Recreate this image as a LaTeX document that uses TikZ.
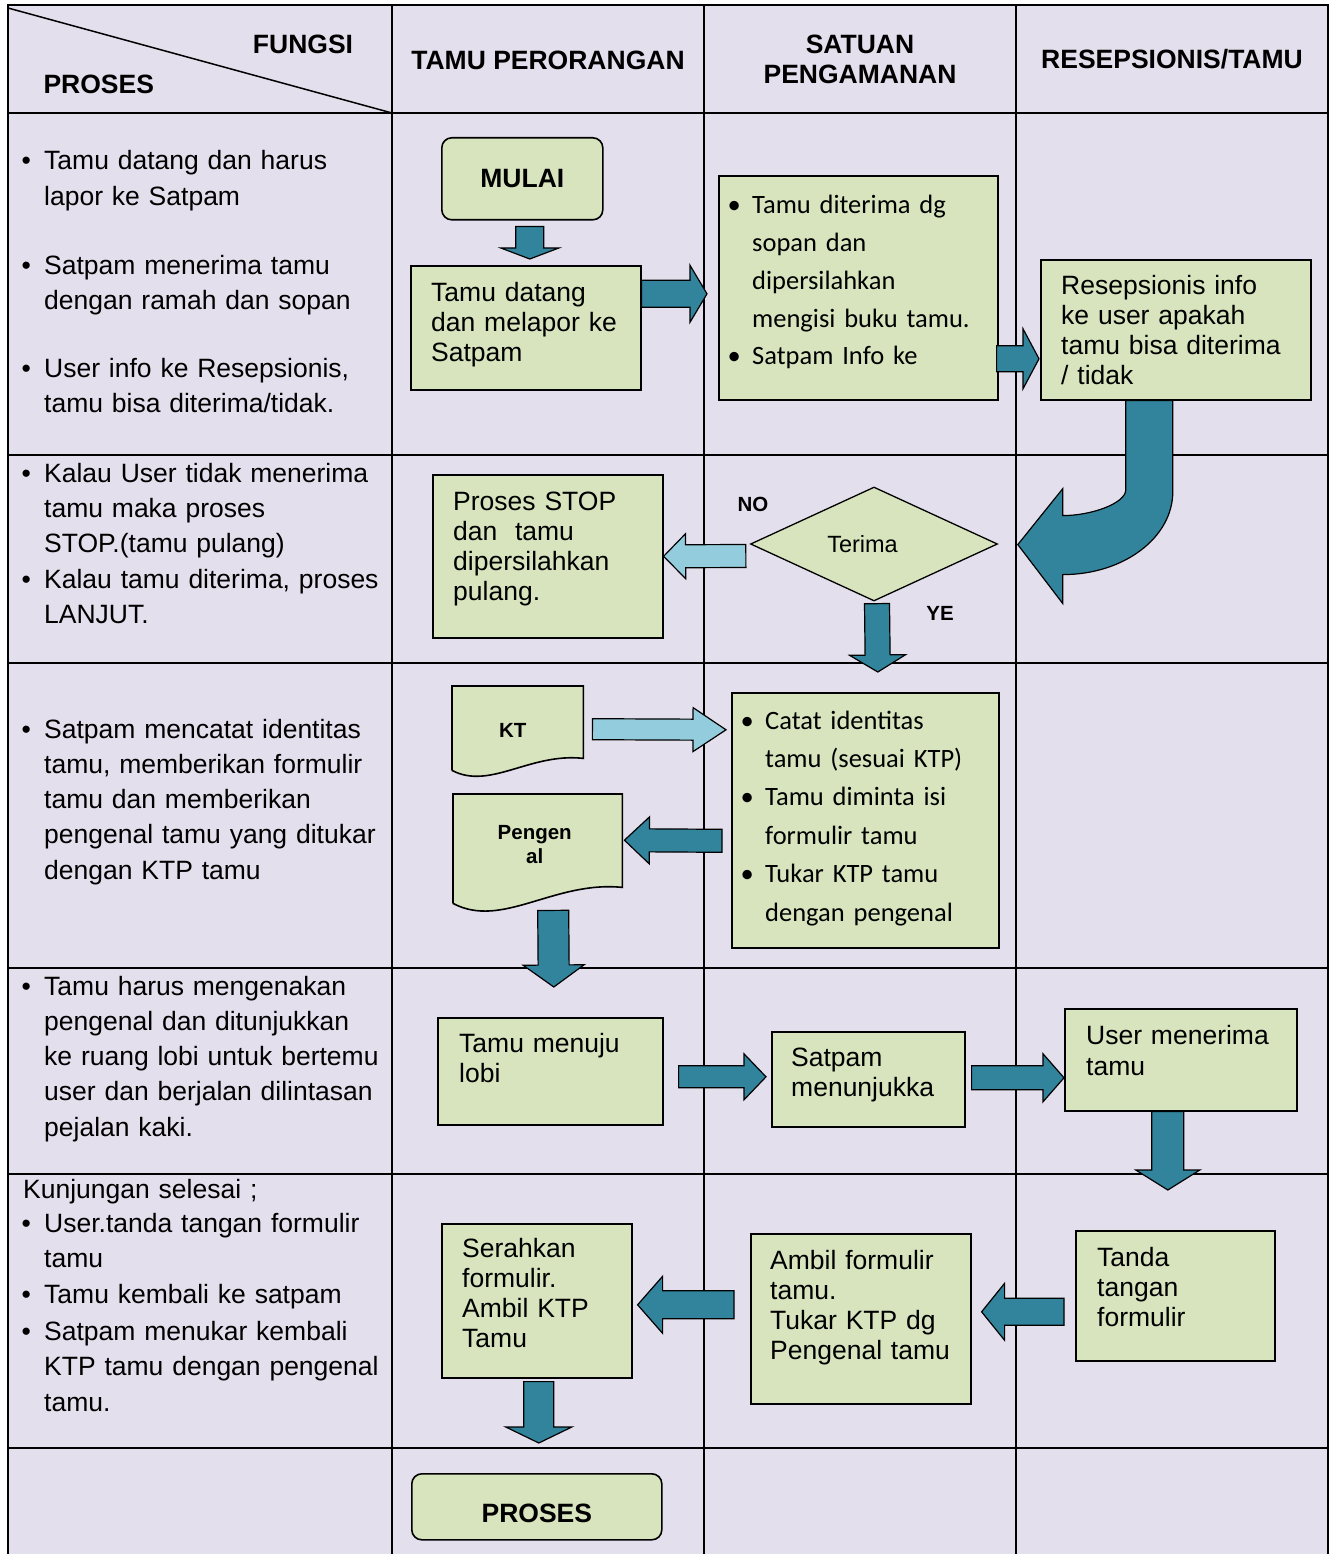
\documentclass[tikz,border=0pt]{standalone}
\usepackage{fontspec}
\setmainfont{Liberation Sans}
\newfontfamily\calibri{Carlito}
\usetikzlibrary{calc,shapes.geometric}

\definecolor{lavbg}{HTML}{E4DFEC}
\definecolor{boxgreen}{HTML}{D7E4BD}
\definecolor{arrteal}{HTML}{31849B}
\definecolor{arrlight}{HTML}{93CDDD}

\newcommand\colfnt{\fontsize{26.5}{35.3}\selectfont}
\newcommand\boxfnt{\fontsize{26.5}{30.3}\selectfont}
\newcommand\calfnt{\calibri\fontsize{26.5}{37.7}\selectfont}
\newcommand\headfnt{\bfseries\fontsize{26.5}{29.5}\selectfont}
\newcommand\smallfnt{\bfseries\fontsize{20.5}{24.5}\selectfont}
\newcommand\bul{\leavevmode\llap{\makebox[36pt][c]{\textbullet}}}
% block arrow: [fill]{from}{tip}{shaft}{head}{head length}
\newcommand\blkarrow[6][arrteal]{%
  \draw[blk,fill=#1] let \p1=#2, \p2=#3,
    \n1={atan2(\y2-\y1,\x2-\x1)}, \n2={veclen(\x2-\x1,\y2-\y1)} in
    [shift={(\p1)},rotate=\n1]
    (0,{#4/2}) -- ({\n2-#6},{#4/2}) -- ({\n2-#6},{#5/2}) -- (\n2,0)
    -- ({\n2-#6},{-#5/2}) -- ({\n2-#6},{-#4/2}) -- (0,{-#4/2}) -- cycle;}

\begin{document}
\begin{tikzpicture}[x=1pt,y=-1pt,
  grid/.style={line width=2pt},
  blk/.style={draw=black,line width=1.2pt},
  procbox/.style={draw=black,line width=1.6pt,fill=boxgreen,anchor=north west,inner sep=0pt},
  startbox/.style={procbox,rounded corners=10pt,font=\headfnt},
  docbox/.style={anchor=north west,inner sep=0pt},
  docline/.style={draw=black,line width=1.6pt,fill=boxgreen},
  decision/.style={diamond,draw=black,line width=1.3pt,fill=boxgreen,inner sep=0pt,aspect=2.17},
  txt/.style={anchor=base west,inner sep=0pt,align=left,text width=#1},
  txt/.default=380pt]
\useasboundingbox (0,0) rectangle (1329,1554);

% table
\fill[lavbg] (8,5) rectangle (1328,1554);
\draw[grid] (8,1554) -- (8,5) -- (1328,5) -- (1328,1554);
\foreach \x in {392,704,1016} \draw[grid] (\x,5) -- (\x,1554);
\foreach \y in {113,455,663,968,1174,1448} \draw[grid] (8,\y) -- (1328,\y);
\draw[line width=1.5pt] (8,8) -- (392,113);

% header
\node[font=\headfnt,anchor=base] (fungsi) at (303,54) {FUNGSI};
\node[font=\headfnt,anchor=base west] (proseshd) at (40,94) {PROSES};
\node[font=\headfnt,anchor=base] (tamuhd) at (548,70) {TAMU PERORANGAN};
\node[font=\headfnt,anchor=base,align=center,text width=280pt] (satpamhd) at (860,54) {SATUAN\\PENGAMANAN};
\node[font=\headfnt,anchor=base] (resephd) at (1172,69) {RESEPSIONIS/TAMU};

% process column
\node[txt,font=\colfnt] (r1a) at (44,170) {\bul Tamu datang dan harus\\lapor ke Satpam};
\node[txt,font=\colfnt] (r1b) at (44,274) {\bul Satpam menerima tamu\\dengan ramah dan sopan};
\node[txt,font=\colfnt] (r1c) at (44,377) {\bul User info ke Resepsionis,\\tamu bisa diterima/tidak.};
\node[txt,font=\colfnt] (r2a) at (44,482) {\bul Kalau User tidak menerima\\tamu maka proses\\STOP.(tamu pulang)};
\node[txt,font=\colfnt] (r2b) at (44,588) {\bul Kalau tamu diterima, proses\\LANJUT.};
\node[txt,font=\colfnt] (r3) at (44,738) {\bul Satpam mencatat identitas\\tamu, memberikan formulir\\tamu dan memberikan\\pengenal tamu yang ditukar\\dengan KTP tamu};
\node[txt,font=\colfnt] (r4) at (44,995) {\bul Tamu harus mengenakan\\pengenal dan ditunjukkan\\ke ruang lobi untuk bertemu\\user dan berjalan dilintasan\\pejalan kaki.};
\node[txt,font=\colfnt] (kunj) at (23,1198) {Kunjungan selesai ;};
\node[txt,font=\colfnt] (r5a) at (44,1232) {\bul User.tanda tangan formulir\\tamu};
\node[txt,font=\colfnt] (r5b) at (44,1303) {\bul Tamu kembali ke satpam};
\node[txt,font=\colfnt] (r5c) at (44,1340) {\bul Satpam menukar kembali\\KTP tamu dengan pengenal\\[1pt]tamu.};

% boxes
\node[startbox,minimum width=161,minimum height=82] (mulai) at (441,137) {MULAI};
\node[procbox,minimum width=230,minimum height=124] (datang) at (410,265) {};
\node[txt=200pt,font=\boxfnt] (datangt) at (431,301) {Tamu datang\\dan melapor ke\\Satpam};
\node[procbox,minimum width=279,minimum height=224] (dg) at (718,175) {};
\node[txt=240pt,font=\calfnt] (dgt) at (752,214) {\bul Tamu diterima dg\\sopan dan\\dipersilahkan\\mengisi buku tamu.\\\bul Satpam Info ke};
\node[procbox,minimum width=270,minimum height=140] (resep) at (1040,259) {};
\node[txt=240pt,font=\boxfnt] (resept) at (1061,294) {Resepsionis info\\ke user apakah\\tamu bisa diterima\\/ tidak};
\node[procbox,minimum width=230,minimum height=163] (stop) at (432,474) {};
\node[txt=200pt,font=\boxfnt] (stopt) at (453,510) {Proses STOP\\dan\ \ tamu\\dipersilahkan\\pulang.};
\node[decision,minimum width=247,minimum height=114,font=\fontsize{23.5}{28}\selectfont] (terima) at (874,544) {Terima\hspace*{23pt}};
\node[font=\smallfnt] (no) at (753,504) {NO};
\node[font=\smallfnt] (ye) at (940,613) {YE};

\node[docbox,minimum width=131,minimum height=84] (kt) at (452,686) {};
\draw[docline] (kt.south west) -- (kt.north west) -- (kt.north east) -- ($(kt.south east)+(0,-12)$)
  .. controls ($(kt.south west)+(78,-18)$) and ($(kt.south west)+(38,20)$) .. (kt.south west);
\node[font=\smallfnt] (ktt) at ($(kt.center)+(-5,2)$) {KT};
\node[docbox,minimum width=169,minimum height=109] (pgl) at (453,794) {};
\draw[docline] (pgl.south west) -- (pgl.north west) -- (pgl.north east) -- ($(pgl.south east)+(0,-16)$)
  .. controls ($(pgl.south west)+(101,-23)$) and ($(pgl.south west)+(49,26)$) .. (pgl.south west);
\node[font=\smallfnt,align=center,text width=150pt] (pglt) at ($(pgl.center)+(-3,-4)$) {Pengen\\al};
\node[procbox,minimum width=267,minimum height=255] (catat) at (731,692) {};
\node[txt=230pt,font=\calfnt\setlength\baselineskip{38.4pt}] (catatt) at (765,729) {\bul Catat identitas\\tamu (sesuai KTP)\\\bul Tamu diminta isi\\formulir tamu\\\bul Tukar KTP tamu\\dengan pengenal};

\node[procbox,minimum width=225,minimum height=107] (lobi) at (437,1017) {};
\node[txt=200pt,font=\boxfnt] (lobit) at (459,1052) {Tamu menuju\\lobi};
\node[procbox,minimum width=193,minimum height=95] (tunjuk) at (771,1031) {};
\node[txt=180pt,font=\boxfnt] (tunjukt) at (791,1066) {Satpam\\menunjukka};
\node[procbox,minimum width=232,minimum height=102] (usr) at (1064,1008) {};
\node[txt=210pt,font=\boxfnt] (usrt) at (1086,1044) {User menerima\\[1.5pt]tamu};

\node[procbox,minimum width=190,minimum height=154] (serah) at (441,1223) {};
\node[txt=170pt,font=\boxfnt] (serahkt) at (462,1257) {Serahkan\\formulir.\\Ambil KTP\\Tamu};
\node[procbox,minimum width=220,minimum height=170] (ambil) at (750,1233) {};
\node[txt=200pt,font=\boxfnt] (ambilt) at (770,1269) {Ambil formulir\\tamu.\\Tukar KTP dg\\Pengenal tamu};
\node[procbox,minimum width=199,minimum height=130] (tanda) at (1075,1230) {};
\node[txt=180pt,font=\boxfnt] (tandat) at (1097,1266) {Tanda\\tangan\\formulir};

\node[startbox,minimum width=250,minimum height=66,text height=31pt] (proses) at (411,1473) {PROSES};

% arrows
\blkarrow{($(mulai.south)+(7.5,6)$)}{($(datang.north)+(4,-6)$)}{28}{58}{11}
\blkarrow{($(datang.east)+(0,-34)$)}{($(dg.west)+(-11,6)$)}{27}{57}{17}
\blkarrow{($(dg.east)+(-2,71)$)}{($(resep.west)+(-1,29)$)}{26}{60}{16}
\draw[blk,fill=arrteal,shift={(resep.south)}] (-50,0) -- (-50,89)
  .. controls (-50,103) and (-85,115) .. (-113,115) -- (-113,88) -- (-158,144)
  -- (-113,203) -- (-113,174) .. controls (-52,174) and (-3,137) .. (-3,91) -- (-3,0) -- cycle;
\blkarrow[arrlight]{($(terima.west)+(-4,12)$)}{(stop.east)}{23}{45}{22}
\blkarrow{($(terima.south)+(3,2)$)}{($(catat.north)+(12.5,-20)$)}{25}{56}{17}
\blkarrow[arrlight]{($(kt.east)+(9,1)$)}{($(catat.west)+(-5,-90.5)$)}{21}{44}{33}
\blkarrow{($(catat.west)+(-9,20.5)$)}{($(pgl.east)+(2,-8.5)$)}{23}{47}{25}
\blkarrow{($(pgl.south)+(15.5,7)$)}{($(lobi.north)+(3.5,-30)$)}{31}{61}{22}
\blkarrow{($(lobi.east)+(15,5.5)$)}{($(tunjuk.west)+(-5,-2.5)$)}{22}{46}{22}
\blkarrow{($(tunjuk.east)+(6,-1.5)$)}{($(usr.west)+(0,18)$)}{24}{48}{21}
\blkarrow{($(usr.south)+(-13,0)$)}{($(tanda.north)+(-7.5,-40)$)}{32}{64}{20}
\blkarrow{($(tanda.west)+(-11,16)$)}{($(ambil.east)+(10,-7)$)}{27}{57}{23}
\blkarrow{($(ambil.west)+(-16,-14)$)}{($(serah.east)+(5,4)$)}{28}{57}{25}
\blkarrow{($(serah.south)+(2,3)$)}{($(proses.north)+(2,-30)$)}{30}{66}{16}
\end{tikzpicture}
\end{document}
